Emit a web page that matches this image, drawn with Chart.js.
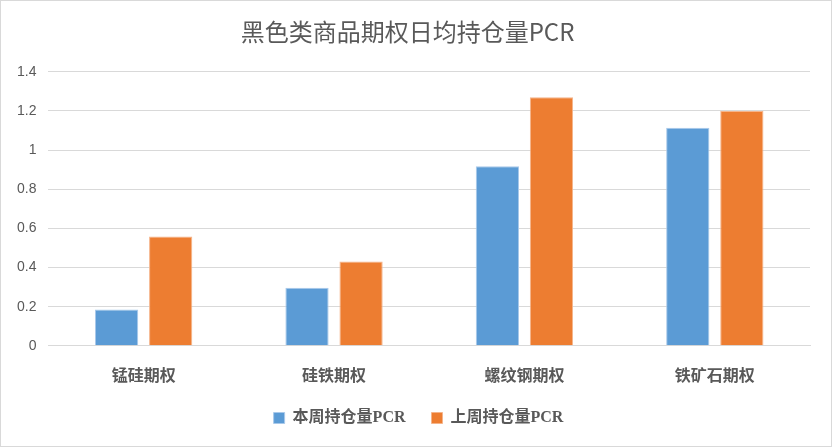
<!DOCTYPE html>
<html>
<head>
<meta charset="utf-8">
<script src="https://cdn.jsdelivr.net/npm/chart.js@4/dist/chart.umd.min.js"></script>
<style>
html,body{margin:0;padding:0;background:#fff;}
#wrap{position:absolute;left:0;top:0;width:830px;height:445px;border:1px solid #d9d9d9;background:#fff;}
canvas{display:block;}
</style>
</head>
<body>
<div id="wrap"><canvas id="c" width="830" height="445"></canvas></div>
<script>
const categories = ['锰硅期权', '硅铁期权', '螺纹钢期权', '铁矿石期权'];
const thisWeek = [0.185, 0.297, 0.918, 1.114];
const lastWeek = [0.559, 0.431, 1.27, 1.2];
const seriesNames = ['本周持仓量PCR', '上周持仓量PCR'];
const yTicks = [0, 0.2, 0.4, 0.6, 0.8, 1, 1.2, 1.4];

const EXTRA = 11;
const legendGap = {
  id: 'legendGap',
  beforeLayout(chart) {
    const lg = chart.legend;
    if (lg && !lg._wrapped) {
      const f = lg.fit;
      lg.fit = function () { f.call(this); this.height -= EXTRA; };
      lg._wrapped = true;
    }
  },
  afterLayout(chart) {
    const lg = chart.legend;
    if (lg) { lg.top -= EXTRA + 2; lg.bottom -= EXTRA + 2; lg.left += 11; lg.right += 11; }
  }
};

const ctx = document.getElementById('c');
new Chart(ctx, {
  type: 'bar',
  data: {
    labels: categories,
    datasets: [
      {label: seriesNames[0], data: thisWeek, backgroundColor: '#5b9bd5', borderColor: '#a9c9ea', borderWidth: 1},
      {label: seriesNames[1], data: lastWeek, backgroundColor: '#ed7d31', borderColor: '#f5b48a', borderWidth: 1}
    ]
  },
  plugins: [legendGap],
  options: {
    responsive: false,
    animation: false,
    devicePixelRatio: 1,
    layout: {padding: {left: 4, right: 21, top: 4, bottom: 8}},
    datasets: {bar: {barPercentage: 0.8, categoryPercentage: 0.568}},
    plugins: {
      title: {
        display: true,
        text: '黑色类商品期权日均持仓量PCR',
        color: '#595959',
        font: {family: '"Noto Sans CJK SC", sans-serif', size: 24, weight: 'normal'},
        padding: {top: 12, bottom: 26}
      },
      legend: {
        position: 'bottom',
        labels: {
          color: '#595959',
          boxWidth: 11, boxHeight: 11,
          padding: 26,
          font: {family: '"Liberation Serif", "Noto Sans CJK SC", serif', size: 16, weight: 'bold'}
        }
      },
      tooltip: {enabled: false}
    },
    scales: {
      x: {
        grid: {display: false},
        border: {display: true, color: '#d9d9d9'},
        ticks: {color: '#595959', padding: 12, font: {family: '"Noto Sans CJK SC", sans-serif', size: 16, weight: 'bold'}}
      },
      y: {
        min: 0, max: 1.4,
        afterBuildTicks: (axis) => { axis.ticks = yTicks.map(v => ({value: v})); },
        grid: {color: '#d9d9d9', drawTicks: false},
        border: {display: false},
        ticks: {color: '#595959', padding: 12, font: {family: '"Liberation Sans", sans-serif', size: 14},
          callback: (v) => String(v)}
      }
    }
  }
});
</script>
</body>
</html>
